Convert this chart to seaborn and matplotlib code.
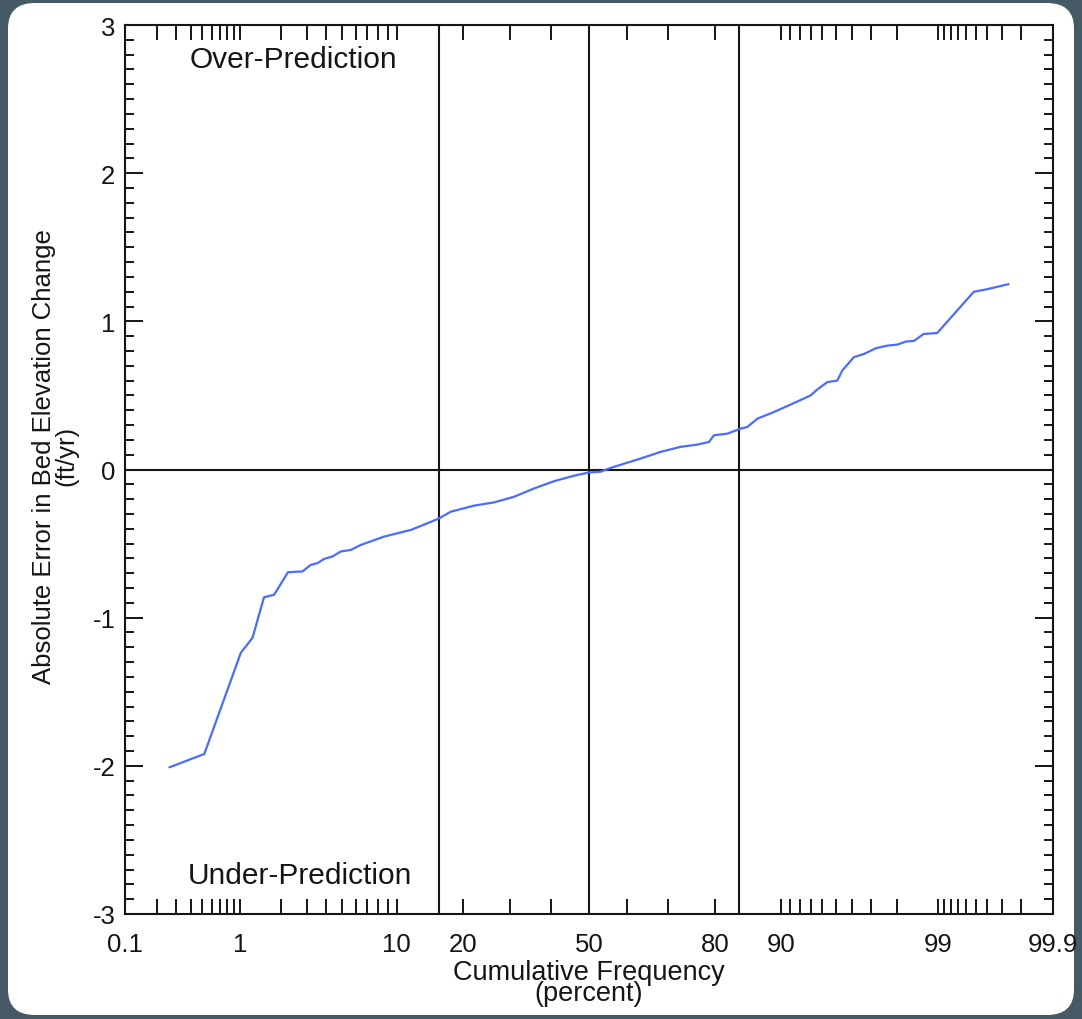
import math
import numpy as np
import pandas as pd
import matplotlib
matplotlib.use("Agg")
import matplotlib.pyplot as plt
from matplotlib.patches import FancyBboxPatch
import seaborn as sns

# ---------------- data ----------------
cum_freq = [0.26, 0.52, 1.02, 1.25, 1.52, 1.80, 2.25, 2.82, 3.19, 3.53, 3.89, 4.38,
            4.92, 5.63, 6.43, 8.61, 11.76, 14.10, 15.9, 17.85, 22.18, 26.35, 30.88,
            35.72, 40.79, 46.02, 50.0, 53.1, 55.74, 63.46, 68.33, 72.92, 76.48, 78.79,
            79.73, 82.16, 84.38, 85.42, 86.89, 89.10, 91.74, 93.0, 93.58, 94.38, 95.09,
            95.42, 96.11, 96.65, 97.19, 97.65, 98.0, 98.25, 98.48, 98.71, 98.98, 99.48,
            99.60, 99.74]
abs_error = [-2.01, -1.92, -1.237, -1.137, -0.863, -0.845, -0.693, -0.688, -0.644,
             -0.632, -0.603, -0.587, -0.553, -0.543, -0.509, -0.453, -0.408, -0.363,
             -0.33, -0.285, -0.244, -0.222, -0.184, -0.128, -0.079, -0.042, -0.02,
             -0.015, 0.011, 0.074, 0.119, 0.153, 0.168, 0.186, 0.231, 0.242, 0.276,
             0.287, 0.343, 0.388, 0.459, 0.50, 0.54, 0.59, 0.60, 0.668, 0.758, 0.78,
             0.818, 0.836, 0.843, 0.863, 0.868, 0.915, 0.921, 1.199, 1.217, 1.251]

x_major_ticks = [0.1, 1, 10, 20, 50, 80, 90, 99, 99.9]
x_major_labels = ["0.1", "1", "10", "20", "50", "80", "90", "99", "99.9"]
x_minor_ticks = ([0.2, 0.3, 0.4, 0.5, 0.6, 0.7, 0.8, 0.9]
                 + [2, 3, 4, 5, 6, 7, 8, 9]
                 + [30, 40, 60, 70]
                 + [91, 92, 93, 94, 95, 96, 97, 98]
                 + [99.1, 99.2, 99.3, 99.4, 99.5, 99.6, 99.7, 99.8])
ref_lines_x = [15.87, 50, 84.13]
y_ticks = [-3, -2, -1, 0, 1, 2, 3]

# ---------------- probability scale ----------------
_erf = np.vectorize(math.erf, otypes=[float])


def norm_cdf(z):
    z = np.asarray(z, dtype=float)
    return 0.5 * (1.0 + _erf(z / math.sqrt(2.0)))


def norm_ppf(p):
    p = np.clip(np.asarray(p, dtype=float), 1e-12, 1 - 1e-12)
    lo = np.full_like(p, -10.0)
    hi = np.full_like(p, 10.0)
    for _ in range(60):
        mid = 0.5 * (lo + hi)
        m = norm_cdf(mid) < p
        lo = np.where(m, mid, lo)
        hi = np.where(m, hi, mid)
    return 0.5 * (lo + hi)


def fwd(pct):
    return norm_ppf(np.asarray(pct, dtype=float) / 100.0)


def inv(z):
    return norm_cdf(z) * 100.0


# ---------------- figure ----------------
sns.set_style("ticks")
plt.rcParams["font.family"] = ["Liberation Sans", "DejaVu Sans"]

INK = "#151515"
W, H = 1082, 1020
fig = plt.figure(figsize=(W / 100, H / 100), dpi=100, facecolor="#455a64")
card = FancyBboxPatch((8 / W, 4 / H), (1066 / W), (1012 / H),
                      boxstyle="round,pad=0,rounding_size=0.025",
                      transform=fig.transFigure, facecolor="white",
                      edgecolor="none", zorder=-10)
fig.patches.append(card)

ax = fig.add_axes([125 / W, 1 - 915 / H, 928 / W, 889 / H])
ax.set_zorder(5)
ax.set_facecolor("white")
ax.set_xscale("function", functions=(fwd, inv))

df = pd.DataFrame({"cum": cum_freq, "err": abs_error})
sns.lineplot(data=df, x="cum", y="err", ax=ax, color="#4a6cff", linewidth=1.6,
             estimator=None, sort=False, zorder=3)

for xv in ref_lines_x:
    ax.axvline(xv, color=INK, linewidth=1.5, zorder=2)
ax.axhline(0, color=INK, linewidth=1.5, zorder=2)

ax.set_xlim(0.1, 99.9)
ax.set_ylim(-3, 3)

ax.set_xticks(x_major_ticks)
ax.set_xticklabels(x_major_labels)
ax.set_xticks(x_minor_ticks, minor=True)
ax.set_yticks(y_ticks)
ax.set_yticklabels([str(v) for v in y_ticks])
ax.set_yticks(np.arange(-3, 3.001, 0.1), minor=True)

ax.tick_params(axis="x", which="both", direction="in", length=11, width=1.4,
               top=True, bottom=True, labelsize=18.5, pad=13, colors=INK,
               labelcolor=INK)
ax.tick_params(axis="y", which="major", direction="in", length=13, width=1.4,
               left=True, right=True, labelsize=18.5, pad=7, colors=INK,
               labelcolor=INK)
ax.tick_params(axis="y", which="minor", direction="in", length=6.5, width=1.4,
               left=True, right=True, colors=INK)
for s in ax.spines.values():
    s.set_visible(True)
    s.set_linewidth(1.5)
    s.set_color(INK)

ax.set_xlabel("Cumulative Frequency\n(percent)", fontsize=19.5, linespacing=0.78,
              color=INK, labelpad=2)
ax.set_ylabel("Absolute Error in Bed Elevation Change\n(ft/yr)", fontsize=18.5,
              linespacing=0.95, color=INK)
ax.yaxis.set_label_coords(-0.05, 0.516)

ax.text(0.07, 0.962, "Over-Prediction", transform=ax.transAxes, fontsize=21.5,
        ha="left", va="center", color=INK)
ax.text(0.068, 0.044, "Under-Prediction", transform=ax.transAxes, fontsize=21.5,
        ha="left", va="center", color=INK)

fig.savefig("out.png", dpi=100, facecolor=fig.get_facecolor())
